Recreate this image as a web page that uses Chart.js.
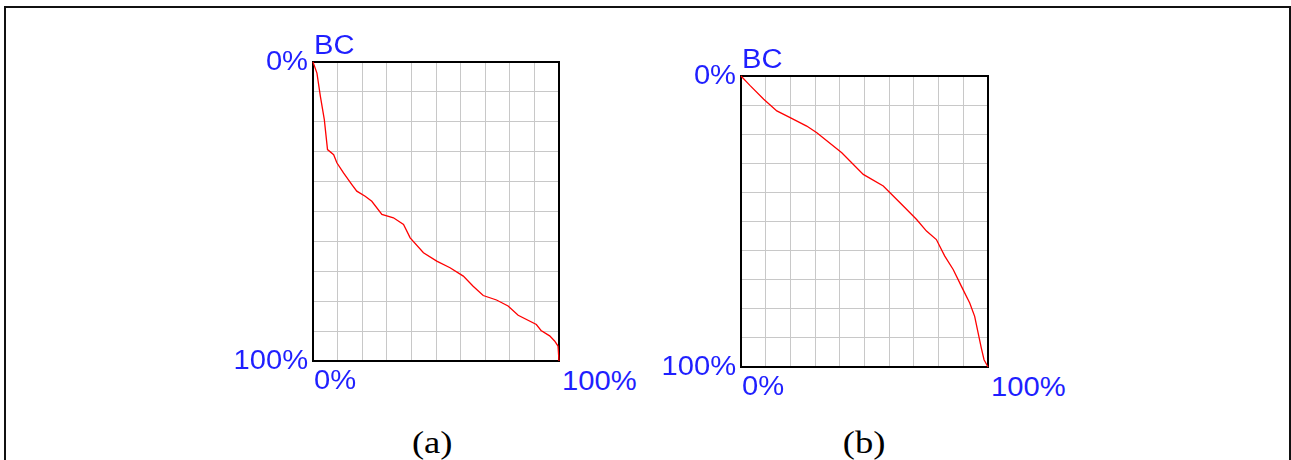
<!DOCTYPE html>
<html>
<head>
<meta charset="utf-8">
<script src="https://cdn.jsdelivr.net/npm/chart.js@4.4.1/dist/chart.umd.min.js"></script>
<style>
  html, body { margin: 0; padding: 0; background: #fff; overflow: hidden; }
  body { width: 1291px; height: 460px; position: relative; }
  #frame { position: absolute; left: 4px; top: 6px; width: 1287px; height: 520px;
           border: 2px solid #111; box-sizing: border-box; }
  .panel { position: absolute; }
  .lbl { position: absolute; font-family: "Liberation Sans", Arial, sans-serif; font-size: 27px;
         line-height: 27px; color: #1f1fff; white-space: nowrap; }
  .cap { position: absolute; font-family: "Liberation Serif", "Times New Roman", serif; font-size: 31px;
         line-height: 31px; color: #000; white-space: nowrap; }
</style>
</head>
<body>
<div id="frame"></div>

<script>
// (a) curve, percent along x / percent down y
const ax = [0, 1.6, 3, 4.6, 5.9, 8.4, 9.7, 12.4, 15.8, 17.8, 21.2, 23.9, 28, 32.7, 36.8, 39.5,
            44.9, 50.3, 55.7, 61.1, 65.1, 69.2, 74.6, 79.3, 83.4, 90.8, 92.7, 96.2, 98.2, 99.6, 100];
const ay = [0, 3.7, 11.5, 19.3, 29.3, 31, 33.7, 37.1, 41, 43.2, 44.9, 46.6, 51, 52.1, 54.3, 58.8,
            63.8, 66.6, 68.8, 71.6, 75, 78.1, 79.6, 81.6, 84.7, 87.8, 89.8, 91.6, 93.3, 95, 100];

// (b) curve
const bx = [0, 3.8, 9.2, 14.5, 19.9, 26.6, 30.7, 40.8, 49.5, 57.6, 65.7, 71.1, 75.1, 79.1,
            82.5, 85.9, 89.2, 92.6, 94.6, 96, 97.3, 98.4, 100];
const by = [0, 3.4, 8, 12, 14.3, 17.2, 19.5, 26.4, 33.8, 37.8, 44.7, 49.3, 53.3, 56.2,
            61.9, 66.5, 72.2, 78, 82.6, 88.3, 93.5, 97.5, 100];

const yTickLabels = ["0%", "100%"];
const xTickLabels = ["0%", "100%"];
const axisTitle = "BC";
const captions = ["(a)", "(b)"];

const PAD = 4;

// black box round the plot area, drawn under the curve
const frameBox = {
  id: "frameBox",
  beforeDatasetsDraw(chart) {
    const { ctx, chartArea: a } = chart;
    ctx.save();
    ctx.strokeStyle = "#000";
    ctx.lineWidth = 2;
    ctx.strokeRect(a.left, a.top, a.right - a.left, a.bottom - a.top);
    ctx.restore();
  }
};

function addText(cls, text, x, baseline, align, sx) {
  const d = document.createElement("div");
  d.className = cls;
  d.textContent = text;
  document.body.appendChild(d);
  const fs = parseFloat(getComputedStyle(d).fontSize);
  const asc = cls === "cap" ? 0.891 : 0.905;
  const desc = cls === "cap" ? 0.216 : 0.212;
  const top = baseline - ((fs - (asc + desc) * fs) / 2 + asc * fs);
  d.style.top = top + "px";
  const w = d.getBoundingClientRect().width;
  if (align === "right") {
    d.style.left = (x - w) + "px";
    d.style.transformOrigin = "right center";
  } else if (align === "center") {
    d.style.left = (x - w / 2) + "px";
    d.style.transformOrigin = "center center";
  } else {
    d.style.left = x + "px";
    d.style.transformOrigin = "left center";
  }
  d.style.transform = "scaleX(" + sx + ")";
}

function makePanel(xs, ys, box, caption, capX) {
  const wrap = document.createElement("div");
  wrap.className = "panel";
  wrap.style.left = (box.l - PAD) + "px";
  wrap.style.top = (box.t - PAD) + "px";
  wrap.style.width = (box.r - box.l + 2 * PAD) + "px";
  wrap.style.height = (box.b - box.t + 2 * PAD) + "px";
  const cv = document.createElement("canvas");
  wrap.appendChild(cv);
  document.body.appendChild(wrap);

  new Chart(cv, {
    type: "line",
    data: {
      datasets: [{
        data: xs.map((x, i) => ({ x: x, y: ys[i] })),
        borderColor: "#ff0000",
        borderWidth: 1.3,
        pointRadius: 0,
        tension: 0,
        clip: false
      }]
    },
    options: {
      responsive: true,
      maintainAspectRatio: false,
      animation: false,
      layout: { padding: PAD },
      plugins: { legend: { display: false }, tooltip: { enabled: false } },
      scales: {
        x: {
          type: "linear", min: 0, max: 100,
          ticks: { display: false, stepSize: 10 },
          grid: { color: "#c8c8c8", lineWidth: 1, drawTicks: false },
          border: { display: false }
        },
        y: {
          type: "linear", min: 0, max: 100, reverse: true,
          ticks: { display: false, stepSize: 10 },
          grid: { color: "#c8c8c8", lineWidth: 1, drawTicks: false },
          border: { display: false }
        }
      }
    },
    plugins: [frameBox]
  });

  addText("lbl", yTickLabels[0], box.l - 5, box.t + 9, "right", 1.08);
  addText("lbl", yTickLabels[1], box.l - 5, box.b + 9, "right", 1.08);
  addText("lbl", axisTitle, box.l + 1, box.t - 7, "left", 1.08);
  addText("lbl", xTickLabels[0], box.l + 1, box.b + 29, "left", 1.08);
  addText("lbl", xTickLabels[1], box.r + 3, box.b + 30, "left", 1.08);
  addText("cap", caption, capX, 453, "center", 1.18);
}

makePanel(ax, ay, { l: 313, t: 62, r: 559, b: 361 }, captions[0], 432);
makePanel(bx, by, { l: 741, t: 76, r: 988, b: 367 }, captions[1], 864);
</script>
</body>
</html>
